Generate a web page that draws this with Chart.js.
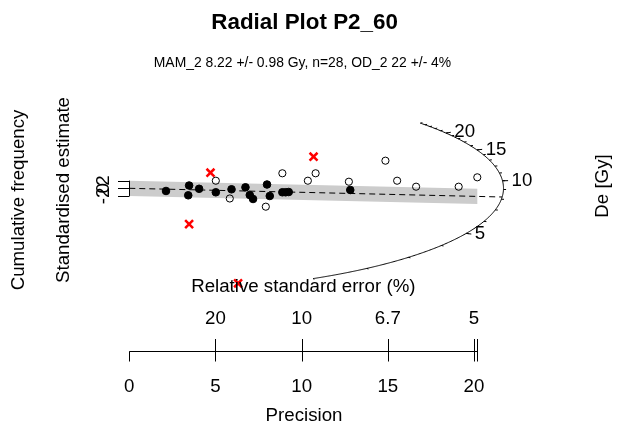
<!DOCTYPE html>
<html>
<head>
<meta charset="utf-8">
<script src="https://cdn.jsdelivr.net/npm/chart.js@4/dist/chart.umd.min.js"></script>
<style>
  html, body { margin: 0; padding: 0; background: #ffffff; }
  #wrap { width: 620px; height: 432px; }
</style>
</head>
<body>
<div id="wrap"><canvas id="c" width="620" height="432"></canvas></div>
<script>
// Aliquots accepted by the minimum age model (precision = 1/se, standardised estimate)
const acceptedPrecision = [2.13, 3.47, 3.42, 4.05, 5.02, 5.93, 6.74, 6.99, 7.18, 7.99, 8.15, 8.88, 9.07, 9.25, 12.82];
const acceptedStdEstimate = [-0.70, 0.73, -1.83, -0.13, -1.04, -0.26, 0.26, -1.75, -2.79, 0.99, -2.01, -1.04, -1.04, -0.97, -0.44];

// Remaining aliquots
const otherPrecision = [5.02, 5.83, 7.92, 8.88, 10.36, 10.81, 12.74, 14.86, 15.54, 16.64, 19.11, 20.19];
const otherStdEstimate = [1.98, -2.66, -4.80, 3.92, 1.98, 3.92, 1.72, 7.21, 1.98, 0.42, 0.42, 2.87];

// Rejected aliquots
const rejectedPrecision = [4.71, 10.69, 3.47, 6.31];
const rejectedStdEstimate = [4.07, 8.25, -9.37, -24.8];

// Axis ticks
const precisionTicks = [0, 5, 10, 15, 20];
const stdEstimateTicks = [-2, 0, 2];
const deMajorTicks = [5, 10, 15, 20];
const deMinorTicks = [1, 2, 3, 4, 5, 6, 7, 8, 9, 10, 11, 12, 13, 14, 15, 16, 17, 18, 19, 20, 21, 22, 23, 24, 25];

// Model values
const mamDe = 8.22;       // MAM_2 (Gy)
const centralDe = 9.13;   // central value of the log-scaled estimates (Gy)
const arcRadius = 21.71;  // z-axis radius in precision units
const arcAspect = 0.802;  // plot-coordinate conversion factor for the arc
const bandHalfWidth = 2;  // +/- 2 sigma

const FONT = '"Liberation Sans", Arial, Helvetica, sans-serif';
const BASE = 18.7;

function toPoints(xs, ys) { return xs.map((x, i) => ({ x: x, y: ys[i] })); }

// point on the De arc, k scales radially (1 = on the arc)
function arcPoint(de, k) {
  const d = Math.log(de) - Math.log(centralDe);
  const x = k * arcRadius / Math.sqrt(1 + arcAspect * arcAspect * d * d);
  return { x: x, y: d * x };
}

function label(ctx, s, x, y, opts) {
  opts = opts || {};
  ctx.save();
  ctx.fillStyle = '#000';
  ctx.font = (opts.bold ? 'bold ' : '') + (opts.size || BASE) + 'px ' + FONT;
  ctx.textAlign = opts.align || 'center';
  ctx.textBaseline = opts.baseline || 'alphabetic';
  ctx.translate(x, y);
  if (opts.rot) ctx.rotate(opts.rot);
  ctx.fillText(s, 0, 0);
  ctx.restore();
}

const radialDecor = {
  id: 'radialDecor',
  beforeDatasetsDraw(chart) {
    const ctx = chart.ctx;
    const X = v => chart.scales.x.getPixelForValue(v);
    const Y = v => chart.scales.y.getPixelForValue(v);
    const pMax = Math.max(...acceptedPrecision, ...otherPrecision, ...rejectedPrecision);
    const slope = Math.log(mamDe) - Math.log(centralDe);

    ctx.save();
    // 2-sigma band around the MAM line
    ctx.fillStyle = '#cccccc';
    ctx.beginPath();
    ctx.moveTo(X(0), Y(-bandHalfWidth));
    ctx.lineTo(X(0), Y(bandHalfWidth));
    ctx.lineTo(X(pMax), Y(bandHalfWidth + slope * pMax));
    ctx.lineTo(X(pMax), Y(-bandHalfWidth + slope * pMax));
    ctx.closePath();
    ctx.fill();

    // MAM line from the origin to the arc
    const end = arcPoint(mamDe, 1);
    ctx.strokeStyle = '#000';
    ctx.lineWidth = 1;
    ctx.setLineDash([6, 4]);
    ctx.beginPath();
    ctx.moveTo(X(0), Y(0));
    ctx.lineTo(X(end.x), Y(end.y));
    ctx.stroke();
    ctx.restore();
  },
  afterDatasetsDraw(chart) {
    const ctx = chart.ctx;
    const X = v => chart.scales.x.getPixelForValue(v);
    const Y = v => chart.scales.y.getPixelForValue(v);
    const pMax = Math.max(...acceptedPrecision, ...otherPrecision, ...rejectedPrecision);

    ctx.save();
    ctx.strokeStyle = '#000';
    ctx.lineWidth = 1;

    // De arc
    const lo = Math.log(Math.min(...deMinorTicks)), hi = Math.log(Math.max(...deMinorTicks));
    ctx.beginPath();
    for (let i = 0; i <= 300; i++) {
      const p = arcPoint(Math.exp(lo + (hi - lo) * i / 300), 1);
      if (i === 0) ctx.moveTo(X(p.x), Y(p.y)); else ctx.lineTo(X(p.x), Y(p.y));
    }
    ctx.stroke();

    // minor and major arc ticks
    deMinorTicks.forEach(v => {
      const a = arcPoint(v, 1), b = arcPoint(v, 1.007);
      ctx.beginPath(); ctx.moveTo(X(a.x), Y(a.y)); ctx.lineTo(X(b.x), Y(b.y)); ctx.stroke();
    });
    deMajorTicks.forEach(v => {
      const a = arcPoint(v, 1), b = arcPoint(v, 1.015);
      ctx.beginPath(); ctx.moveTo(X(a.x), Y(a.y)); ctx.lineTo(X(b.x), Y(b.y)); ctx.stroke();
      label(ctx, String(v), X(b.x) + 3.5, Y(b.y), { align: 'left', baseline: 'middle' });
    });

    // standardised estimate axis
    const x0 = Math.round(X(0)) + 0.5;
    ctx.beginPath();
    ctx.moveTo(x0, Y(Math.min(...stdEstimateTicks)));
    ctx.lineTo(x0, Y(Math.max(...stdEstimateTicks)));
    stdEstimateTicks.forEach(t => {
      const y = Math.round(Y(t)) + 0.5;
      ctx.moveTo(x0, y); ctx.lineTo(x0 - 11.5, y);
    });
    ctx.stroke();
    stdEstimateTicks.forEach(t => {
      label(ctx, String(t), 103.5, Y(t), { rot: -Math.PI / 2, baseline: 'middle' });
    });

    // precision axis with relative standard error on top
    const axY = 351.5;
    ctx.beginPath();
    ctx.moveTo(X(0), axY); ctx.lineTo(X(pMax), axY);
    precisionTicks.forEach(p => {
      const x = Math.round(X(p)) + 0.5;
      ctx.moveTo(x, axY); ctx.lineTo(x, axY + 10);
      if (p > 0) { ctx.moveTo(x, axY); ctx.lineTo(x, axY - 12.5); }
    });
    const xm = Math.round(X(pMax)) + 0.5;
    ctx.moveTo(xm, axY - 12.5); ctx.lineTo(xm, axY + 10);
    ctx.stroke();
    precisionTicks.forEach(p => {
      label(ctx, String(p), X(p), 391.5);
      if (p > 0) label(ctx, String(Number((100 / p).toFixed(1))), X(p), 324);
    });
    ctx.restore();

    // titles and axis titles
    label(ctx, 'Radial Plot P2_60', 304.6, 29, { bold: true, size: 22.4 });
    label(ctx, 'MAM_2 8.22 +/- 0.98 Gy, n=28, OD_2 22 +/- 4%', 302.5, 67, { size: 13.9 });
    label(ctx, 'Relative standard error (%)', 303.3, 292);
    label(ctx, 'Precision', 304, 421);
    label(ctx, 'Standardised estimate', 63.5, 190, { rot: -Math.PI / 2, baseline: 'middle' });
    label(ctx, 'Cumulative frequency', 19, 200, { rot: -Math.PI / 2, baseline: 'middle' });
    label(ctx, 'De [Gy]', 603, 186, { rot: -Math.PI / 2, baseline: 'middle' });
  }
};

new Chart(document.getElementById('c'), {
  type: 'scatter',
  data: {
    datasets: [
      {
        label: 'accepted',
        data: toPoints(acceptedPrecision, acceptedStdEstimate),
        pointStyle: 'circle', pointRadius: 3.8,
        backgroundColor: '#000', borderColor: '#000', borderWidth: 1
      },
      {
        label: 'other',
        data: toPoints(otherPrecision, otherStdEstimate),
        pointStyle: 'circle', pointRadius: 3.6,
        backgroundColor: 'rgba(0,0,0,0)', borderColor: '#000', borderWidth: 1
      },
      {
        label: 'rejected',
        data: toPoints(rejectedPrecision, rejectedStdEstimate),
        pointStyle: 'crossRot', pointRadius: 5.6,
        backgroundColor: '#ff0000', borderColor: '#ff0000', borderWidth: 2.5
      }
    ]
  },
  options: {
    responsive: false,
    animation: false,
    devicePixelRatio: 1,
    layout: { padding: { left: 129.3, right: 7.14, top: 81.06, bottom: 136.46 } },
    scales: {
      x: { type: 'linear', min: 0, max: 28, display: false },
      y: { type: 'linear', min: -28, max: 28, display: false }
    },
    plugins: { legend: { display: false }, tooltip: { enabled: false } },
    events: []
  },
  plugins: [radialDecor]
});
</script>
</body>
</html>
